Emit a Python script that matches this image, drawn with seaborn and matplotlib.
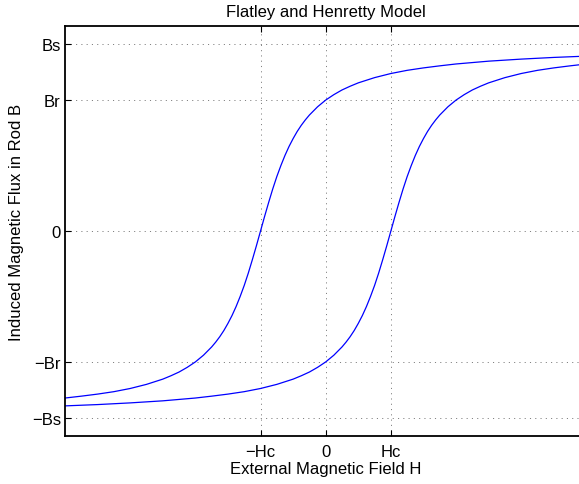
import matplotlib
matplotlib.use("Agg")
import matplotlib.pyplot as plt
import seaborn as sns
import pandas as pd

# Descending branch of the hysteresis loop (field in units of Hc, flux in units of Bs)
h_upper = [-4, -3.75, -3.5, -3.25, -3, -2.75, -2.5, -2.375, -2.25, -2.125,
           -2, -1.875, -1.75, -1.6875, -1.625, -1.5625, -1.5, -1.4375, -1.375, -1.3125,
           -1.25, -1.1875, -1.125, -1.0625, -1, -0.9375, -0.875, -0.8125, -0.75, -0.6875,
           -0.625, -0.5625, -0.5, -0.4375, -0.375, -0.3125, -0.25, -0.125, 0, 0.125,
           0.25, 0.375, 0.5, 0.75, 1, 1.25, 1.5, 1.75, 2, 2.5,
           3, 3.5, 4]
b_upper = [-0.893, -0.883, -0.872, -0.859, -0.842, -0.820, -0.792, -0.774, -0.754, -0.729,
           -0.700, -0.664, -0.620, -0.594, -0.565, -0.532, -0.494, -0.452, -0.404, -0.350,
           -0.291, -0.225, -0.153, -0.078, 0.0, 0.078, 0.153, 0.225, 0.291, 0.350,
           0.404, 0.452, 0.494, 0.532, 0.565, 0.594, 0.620, 0.664, 0.700, 0.729,
           0.754, 0.774, 0.792, 0.820, 0.842, 0.859, 0.872, 0.883, 0.893, 0.908,
           0.919, 0.928, 0.935]

# Ascending branch
h_lower = [-4, -3.5, -3, -2.5, -2, -1.75, -1.5, -1.25, -1, -0.75,
           -0.5, -0.375, -0.25, -0.125, 0, 0.125, 0.25, 0.3125, 0.375, 0.4375,
           0.5, 0.5625, 0.625, 0.6875, 0.75, 0.8125, 0.875, 0.9375, 1, 1.0625,
           1.125, 1.1875, 1.25, 1.3125, 1.375, 1.4375, 1.5, 1.5625, 1.625, 1.6875,
           1.75, 1.875, 2, 2.125, 2.25, 2.375, 2.5, 2.75, 3, 3.25,
           3.5, 3.75, 4]
b_lower = [-0.935, -0.928, -0.919, -0.908, -0.893, -0.883, -0.872, -0.859, -0.842, -0.820,
           -0.792, -0.774, -0.754, -0.729, -0.700, -0.664, -0.620, -0.594, -0.565, -0.532,
           -0.494, -0.452, -0.404, -0.350, -0.291, -0.225, -0.153, -0.078, 0.0, 0.078,
           0.153, 0.225, 0.291, 0.350, 0.404, 0.452, 0.494, 0.532, 0.565, 0.594,
           0.620, 0.664, 0.700, 0.729, 0.754, 0.774, 0.792, 0.820, 0.842, 0.859,
           0.872, 0.883, 0.893]

x_ticks = [-1, 0, 1]
x_tick_labels = ["\u2212Hc", "0", "Hc"]
y_ticks = [-1, -0.70, 0, 0.70, 1]
y_tick_labels = ["\u2212Bs", "\u2212Br", "0", "Br", "Bs"]

sns.set_style("white")
plt.rcParams["font.family"] = ["Liberation Sans", "DejaVu Sans"]
plt.rcParams["lines.scale_dashes"] = False
plt.rcParams["text.color"] = "black"
plt.rcParams["axes.labelcolor"] = "black"

fig = plt.figure(figsize=(5.79, 4.85), dpi=100)
ax = fig.add_axes([65 / 579, 48 / 485, 521.4 / 579, 410 / 485])

upper = pd.DataFrame({"H": h_upper, "B": b_upper})
lower = pd.DataFrame({"H": h_lower, "B": b_lower})
for branch in (upper, lower):
    sns.lineplot(data=branch, x="H", y="B", ax=ax, color="#0000ff", lw=0.9,
                 sort=False, estimator=None, solid_joinstyle="round")

ax.set_xlim(-4, 4)
ax.set_ylim(-1.096, 1.096)
ax.set_xticks(x_ticks)
ax.set_xticklabels(x_tick_labels)
ax.set_yticks(y_ticks)
ax.set_yticklabels(y_tick_labels)

ax.grid(True, color="#808080", linestyle=(0, (0.8, 3.0)), linewidth=0.7)
ax.set_axisbelow(True)

for side in ["left", "top", "bottom", "right"]:
    ax.spines[side].set_visible(True)
    ax.spines[side].set_color("black")
    ax.spines[side].set_linewidth(1.3)

ax.tick_params(axis="both", direction="in", length=4, width=0.8, color="black",
               labelsize=12, labelcolor="black", top=True, right=True,
               bottom=True, left=True)
ax.tick_params(axis="x", pad=6)
ax.tick_params(axis="y", pad=3)

ax.set_title("Flatley and Henretty Model", fontsize=12, pad=7, color="black")
ax.set_xlabel("External Magnetic Field H", fontsize=12, labelpad=1, color="black")
ax.set_ylabel("Induced Magnetic Flux in Rod B", fontsize=12, color="black")
ax.yaxis.set_label_coords(-0.078, 0.523)

fig.savefig("out.png", dpi=100)
